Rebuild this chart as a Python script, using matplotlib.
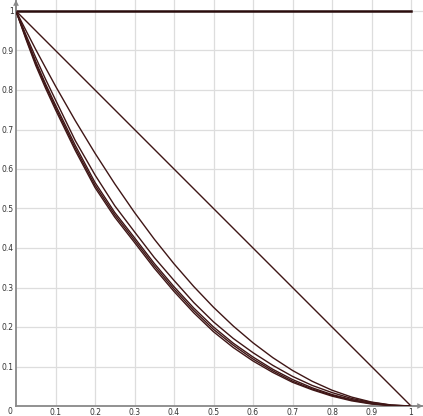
import matplotlib
matplotlib.use("Agg")
import matplotlib.pyplot as plt

# sample positions
xs = [0, 0.025, 0.05, 0.075, 0.1, 0.15, 0.2, 0.25, 0.3, 0.35, 0.4, 0.45, 0.5,
      0.55, 0.6, 0.65, 0.7, 0.75, 0.8, 0.85, 0.9, 0.95, 1.0]

flat_x = [0, 1.0]
flat_y = [1.0, 1.0]
diag_x = [0, 1.0]
diag_y = [1.0, 0.0]
curve_a = [1.0, 0.951, 0.9025, 0.856, 0.81, 0.7225, 0.64, 0.5625, 0.49, 0.4225, 0.36, 0.3025, 0.25,
           0.2025, 0.16, 0.1225, 0.09, 0.0625, 0.04, 0.0225, 0.01, 0.0025, 0.0]
curve_b = [1.0, 0.940, 0.882, 0.827, 0.775, 0.672, 0.585, 0.507, 0.441, 0.376, 0.318, 0.262, 0.213,
           0.171, 0.135, 0.103, 0.075, 0.052, 0.034, 0.019, 0.009, 0.002, 0.0]
curve_c = [1.0, 0.935, 0.872, 0.815, 0.762, 0.660, 0.566, 0.490, 0.426, 0.361, 0.302, 0.248, 0.200,
           0.159, 0.124, 0.093, 0.067, 0.046, 0.029, 0.016, 0.007, 0.0015, 0.0]
curve_d = [1.0, 0.932, 0.867, 0.810, 0.756, 0.653, 0.559, 0.484, 0.420, 0.355, 0.296, 0.242, 0.194,
           0.154, 0.119, 0.089, 0.063, 0.043, 0.027, 0.015, 0.006, 0.0012, 0.0]
curve_e = [1.0, 0.929, 0.862, 0.804, 0.750, 0.647, 0.553, 0.478, 0.414, 0.349, 0.290, 0.236, 0.188,
           0.148, 0.114, 0.085, 0.060, 0.041, 0.025, 0.013, 0.005, 0.001, 0.0]

tick_vals = [0.1, 0.2, 0.3, 0.4, 0.5, 0.6, 0.7, 0.8, 0.9, 1.0]
tick_labels = ["0.1", "0.2", "0.3", "0.4", "0.5", "0.6", "0.7", "0.8", "0.9", "1"]

fig = plt.figure(figsize=(4.23, 4.16), dpi=100)
ax = fig.add_axes([16 / 423, 10 / 416, 407 / 423, 406 / 416])
ax.set_xlim(0, 407 / 395)
ax.set_ylim(0, 406 / 395)

line_col = "#3f1616"
ax.plot(flat_x, flat_y, color="#2a0c0c", lw=1.8, zorder=3)
ax.plot(diag_x, diag_y, color=line_col, lw=1.0, zorder=3)
for c in (curve_a, curve_b, curve_c, curve_d, curve_e):
    ax.plot(xs, c, color=line_col, lw=1.0, zorder=3)

ax.set_xticks(tick_vals)
ax.set_xticklabels(tick_labels)
ax.set_yticks(tick_vals)
ax.set_yticklabels(tick_labels)
ax.tick_params(length=0, labelsize=5.5, labelcolor="#333333", pad=1.5)
ax.grid(True, color="#dddddd", lw=0.9)
ax.set_axisbelow(True)

for s in ("top", "right"):
    ax.spines[s].set_visible(False)
for s in ("left", "bottom"):
    ax.spines[s].set_color("#888888")
    ax.spines[s].set_linewidth(1.3)

arrow_kw = dict(arrowstyle="->", color="#888888", lw=1.0, mutation_scale=7,
                shrinkA=0, shrinkB=0)
ax.annotate("", xy=(407 / 395, 0), xytext=(1.0, 0), arrowprops=arrow_kw,
            annotation_clip=False)
ax.annotate("", xy=(0, 406 / 395), xytext=(0, 1.0), arrowprops=arrow_kw,
            annotation_clip=False)
ax.text(-0.015, -0.015, "0", fontsize=5.5, color="#333333", ha="center", va="center",
        clip_on=False)

fig.savefig("out.png", dpi=100)
